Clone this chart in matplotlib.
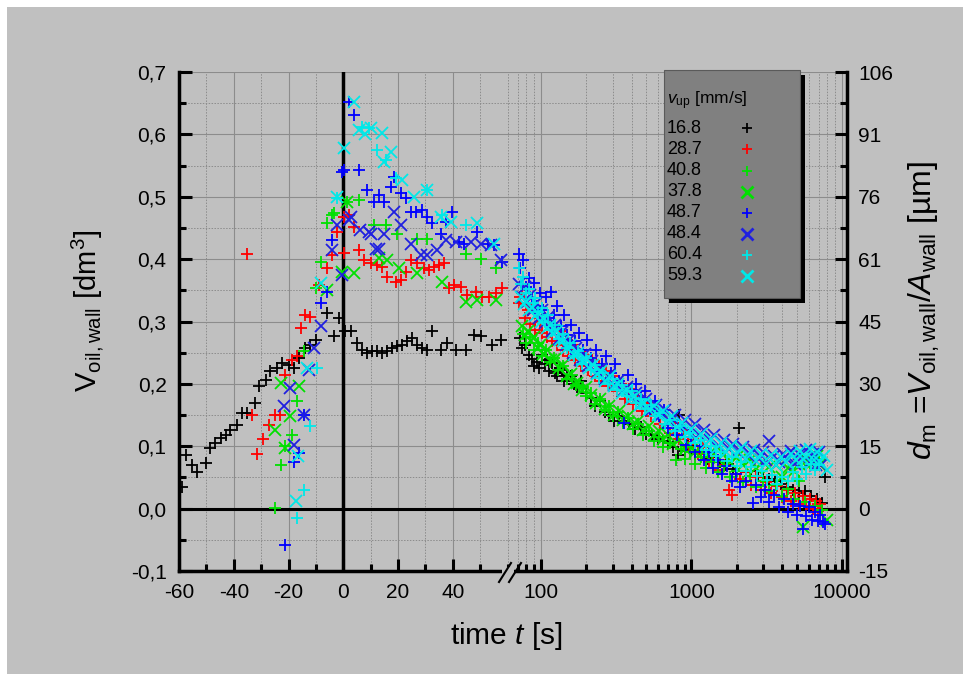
import matplotlib.pyplot as plt
import matplotlib.patches as patches
from matplotlib.lines import Line2D
from matplotlib.ticker import FixedLocator, MultipleLocator, LogLocator, FuncFormatter, NullFormatter
import numpy as np

plt.rcParams['font.family'] = ['Liberation Sans', 'DejaVu Sans']
plt.rcParams['mathtext.fontset'] = 'custom'
plt.rcParams['mathtext.rm'] = 'Liberation Sans'
plt.rcParams['mathtext.it'] = 'Liberation Sans:italic'
plt.rcParams['mathtext.bf'] = 'Liberation Sans:bold'
plt.rcParams['axes.unicode_minus'] = False

BG = '#c0c0c0'
UM_PER_DM3 = 151.4   # d_m = V / A_wall, right axis scale

# --- data: time [s], V_oil,wall [dm3]; linear part (t <= 60) and log part ------------
t_168 = [-58.9, -57.6, -55.2, -53.6, -50.3, -48.5, -46.7, -44.8, -43.0, -41.2, -38.8, -36.9,
         -35.1, -32.1, -30.9, -28.4, -26.6, -24.1, -22.3, -19.9, -18.1, -16.2, -13.8, -12.0,
         -10.1, -5.9, -3.4, -1.6, 0.8, 2.7, 5.1, 6.9, 8.8, 10.6, 12.4, 14.3, 16.1, 17.9, 19.7,
         21.6, 23.4, 25.2, 27.1, 28.9, 30.7, 32.5, 35.6, 38.0, 41.1, 44.7, 47.8, 50.2, 54.5, 57.5]
v_168 = [0.035, 0.086, 0.070, 0.059, 0.073, 0.097, 0.105, 0.113, 0.118, 0.126, 0.134, 0.153,
         0.153, 0.169, 0.196, 0.206, 0.220, 0.225, 0.234, 0.230, 0.225, 0.242, 0.258, 0.262,
         0.270, 0.314, 0.276, 0.306, 0.284, 0.284, 0.265, 0.254, 0.249, 0.252, 0.252, 0.249,
         0.252, 0.257, 0.260, 0.262, 0.268, 0.273, 0.262, 0.257, 0.254, 0.284, 0.254, 0.265,
         0.254, 0.254, 0.278, 0.276, 0.262, 0.270]
tl_168 = [73, 75, 78, 83, 87, 90, 94, 97, 102, 106, 110, 113, 119, 124, 128, 134, 139, 142, 150,
          158, 166, 175, 186, 200, 215, 230, 248, 265, 285, 306, 330, 350, 385, 420, 460, 500,
          550, 600, 650, 700, 760, 810, 830, 900, 950, 1050, 1150, 1280, 1400, 1550, 1700, 1880,
          2080, 2300, 2500, 2750, 3000, 3300, 3600, 3950, 4300, 4750, 5200, 5700, 6200, 6800,
          7400, 7660]
vl_168 = [0.273, 0.257, 0.262, 0.246, 0.240, 0.228, 0.235, 0.225, 0.246, 0.232, 0.238, 0.220,
          0.233, 0.218, 0.212, 0.226, 0.222, 0.204, 0.215, 0.212, 0.200, 0.195, 0.205, 0.185,
          0.178, 0.165, 0.172, 0.155, 0.150, 0.140, 0.148, 0.140, 0.135, 0.128, 0.131, 0.120,
          0.118, 0.112, 0.108, 0.105, 0.098, 0.086, 0.150, 0.092, 0.100, 0.088, 0.090, 0.080,
          0.082, 0.075, 0.070, 0.064, 0.129, 0.058, 0.060, 0.052, 0.050, 0.047, 0.045, 0.040,
          0.035, 0.030, 0.025, 0.028, 0.020, 0.015, 0.009, 0.051]

t_287 = [-35.1, -33.3, -31.4, -29.3, -27.2, -24.8, -23.2, -21.1, -18.6, -16.8, -15.4, -13.8,
         -12.0, -8.9, -5.9, -4.0, -2.2, 0.2, 0.2, 2.0, 3.9, 5.7, 7.5, 10.0, 12.4, 14.3, 16.1,
         19.1, 21.0, 22.8, 24.6, 27.1, 29.5, 31.3, 33.1, 35.0, 36.8, 38.6, 40.4, 42.9, 45.3,
         48.4, 50.8, 53.2, 55.7, 58.1]
v_287 = [0.409, 0.150, 0.088, 0.111, 0.134, 0.150, 0.150, 0.214, 0.238, 0.244, 0.289, 0.311,
         0.308, 0.359, 0.385, 0.407, 0.444, 0.410, 0.468, 0.471, 0.452, 0.415, 0.399, 0.393,
         0.391, 0.388, 0.372, 0.364, 0.367, 0.380, 0.399, 0.393, 0.385, 0.383, 0.388, 0.391,
         0.393, 0.353, 0.359, 0.356, 0.343, 0.348, 0.340, 0.340, 0.345, 0.353]
tl_287 = [71, 73, 75, 78, 80, 82, 85, 88, 92, 95, 99, 102, 106, 110, 114, 118, 123, 128, 134,
          140, 146, 152, 160, 168, 176, 185, 195, 205, 217, 230, 242, 255, 270, 284, 300, 320,
          340, 360, 385, 410, 440, 470, 505, 540, 580, 620, 670, 720, 775, 830, 890, 960, 1030,
          1100, 1200, 1300, 1400, 1500, 1650, 1790, 1870, 1980, 2100, 2300, 2500, 2700, 2900,
          3150, 3400, 3700, 4000, 4300, 4600, 4900, 5200, 5500, 5800, 6100, 6400, 6700, 6900,
          7100, 7300]
vl_287 = [0.330, 0.340, 0.345, 0.305, 0.328, 0.318, 0.296, 0.322, 0.286, 0.305, 0.300, 0.282,
          0.305, 0.275, 0.298, 0.268, 0.290, 0.262, 0.285, 0.255, 0.272, 0.245, 0.262, 0.238,
          0.255, 0.228, 0.246, 0.222, 0.238, 0.212, 0.228, 0.205, 0.220, 0.196, 0.212, 0.188,
          0.200, 0.176, 0.192, 0.168, 0.180, 0.156, 0.170, 0.148, 0.158, 0.135, 0.148, 0.122,
          0.138, 0.112, 0.126, 0.098, 0.112, 0.088, 0.098, 0.075, 0.085, 0.062, 0.070, 0.030,
          0.022, 0.055, 0.048, 0.058, 0.038, 0.050, 0.030, 0.042, 0.025, 0.036, 0.018, 0.030,
          0.012, 0.025, 0.008, 0.020, 0.004, 0.016, 0.000, 0.012, -0.004, 0.008, -0.002]

t_408 = [-24.8, -22.9, -21.1, -18.6, -16.8, -14.4, -10.1, -8.3, -5.9, -4.0, -3.4, 1.5, 5.7,
         11.2, 15.5, 19.7, 27.0, 30.7, 44.7, 50.2, 55.7]
v_408 = [0.001, 0.070, 0.100, 0.118, 0.172, 0.252, 0.353, 0.396, 0.458, 0.471, 0.474, 0.492,
         0.495, 0.455, 0.455, 0.441, 0.433, 0.433, 0.409, 0.401, 0.385]
tl_408 = [76, 80, 85, 90, 95, 101, 108, 115, 122, 130, 140, 150, 160, 170, 179, 190, 200, 215,
          230, 248, 265, 282, 300, 325, 350, 380, 410, 445, 480, 520, 560, 605, 650, 720, 792,
          850, 900, 980, 1050, 1150, 1250, 1380, 1500, 1650, 1800, 2000, 2200, 2450, 2700, 3000,
          3300, 3650, 4000, 4400, 4800, 5200, 5700, 6100, 6600, 7000, 7400]
vl_408 = [0.280, 0.265, 0.275, 0.255, 0.265, 0.245, 0.255, 0.235, 0.242, 0.222, 0.228, 0.208,
          0.215, 0.198, 0.196, 0.195, 0.180, 0.185, 0.168, 0.175, 0.158, 0.165, 0.148, 0.155,
          0.138, 0.145, 0.128, 0.135, 0.118, 0.125, 0.108, 0.115, 0.098, 0.105, 0.078, 0.095,
          0.080, 0.090, 0.072, 0.082, 0.065, 0.075, 0.058, 0.068, 0.050, 0.060, 0.042, 0.052,
          0.035, 0.045, 0.028, 0.038, 0.020, 0.032, 0.015, 0.045, 0.010, 0.070, 0.005, 0.080,
          -0.002]

t_378 = [-24.8, -22.9, -21.1, -19.3, -16.2, -6.0, -0.4, 1.5, 3.9, 13.0, 16.0, 20.3, 27.0,
         36.2, 44.7, 49.0, 55.7]
v_378 = [0.126, 0.201, 0.097, 0.148, 0.196, 0.350, 0.380, 0.491, 0.377, 0.402, 0.399, 0.385,
         0.377, 0.364, 0.332, 0.335, 0.335]
tl_378 = [75, 79, 82, 86, 90, 95, 99, 104, 110, 117, 125, 132, 140, 149, 158, 166, 175, 187,
          200, 215, 231, 248, 265, 285, 305, 328, 350, 380, 410, 445, 480, 520, 560, 605, 650,
          700, 760, 830, 900, 975, 1050, 1150, 1250, 1380, 1500, 1650, 1800, 2000, 2200, 2450,
          2700, 3000, 3300, 3650, 4000, 4400, 4800, 5200, 5500, 5900, 6400, 6800, 7200, 7900]
vl_378 = [0.292, 0.278, 0.285, 0.268, 0.275, 0.258, 0.262, 0.248, 0.255, 0.238, 0.240, 0.225,
          0.230, 0.212, 0.216, 0.200, 0.202, 0.190, 0.195, 0.182, 0.170, 0.175, 0.160, 0.165,
          0.150, 0.156, 0.142, 0.148, 0.135, 0.140, 0.126, 0.132, 0.118, 0.125, 0.112, 0.118,
          0.104, 0.110, 0.096, 0.102, 0.090, 0.096, 0.085, 0.092, 0.080, 0.088, 0.075, 0.082,
          0.070, 0.078, 0.065, 0.075, 0.066, 0.070, 0.050, 0.065, 0.060, 0.072, -0.030, 0.078,
          0.075, 0.085, 0.070, -0.018]

t_487 = [-21.1, -18.1, -16.2, -14.4, -8.3, -5.9, -4.0, -0.4, 0.2, 2.0, 3.9, 5.7, 8.8, 11.2,
         13.0, 14.8, 17.3, 18.5, 21.0, 22.8, 24.6, 26.5, 28.9, 30.7, 32.5, 35.6, 37.4, 39.9,
         42.3, 44.1, 49.0, 52.7, 55.1, 58.1]
v_487 = [-0.058, 0.075, 0.089, 0.150, 0.329, 0.348, 0.431, 0.540, 0.543, 0.652, 0.631, 0.543,
         0.511, 0.492, 0.503, 0.492, 0.516, 0.532, 0.506, 0.498, 0.476, 0.476, 0.479, 0.468,
         0.458, 0.441, 0.460, 0.476, 0.428, 0.425, 0.444, 0.425, 0.423, 0.396]
tl_487 = [71, 73, 76, 80, 83, 87, 90, 94, 98, 103, 108, 112, 116, 122, 128, 135, 142, 150, 159,
          168, 178, 190, 202, 215, 232, 255, 272, 291, 310, 330, 358, 380, 400, 430, 460, 495,
          530, 570, 610, 655, 700, 750, 800, 860, 920, 990, 1060, 1140, 1220, 1310, 1400, 1500,
          1600, 1720, 1850, 1980, 2100, 2300, 2560, 2700, 2900, 3100, 3300, 3550, 3800, 4100,
          4400, 4700, 5000, 5250, 5500, 5750, 6000, 6300, 6600, 6900, 7200, 7500, 7700]
vl_487 = [0.409, 0.385, 0.398, 0.355, 0.370, 0.338, 0.362, 0.325, 0.345, 0.318, 0.340, 0.305,
          0.348, 0.310, 0.325, 0.292, 0.310, 0.278, 0.295, 0.268, 0.282, 0.255, 0.270, 0.242,
          0.255, 0.232, 0.245, 0.218, 0.232, 0.205, 0.137, 0.215, 0.190, 0.200, 0.178, 0.188,
          0.160, 0.172, 0.148, 0.158, 0.130, 0.142, 0.118, 0.130, 0.102, 0.115, 0.090, 0.100,
          0.078, 0.090, 0.065, 0.078, 0.055, 0.068, 0.045, 0.055, 0.035, 0.045, 0.009, 0.038,
          0.018, 0.030, 0.010, 0.022, 0.002, 0.015, -0.005, 0.008, -0.010, 0.005, -0.033,
          -0.012, 0.002, -0.018, -0.005, -0.020, -0.010, -0.022, -0.025]

t_484 = [-21.7, -19.3, -18.1, -14.4, -12.6, -10.7, -8.3, -4.0, -2.2, -0.4, 2.0, 2.7, 6.3, 9.4,
         10.0, 11.8, 13.0, 14.8, 18.5, 21.0, 24.6, 28.3, 30.7, 34.4, 37.4, 41.1, 46.5, 50.2,
         53.9, 57.5]
v_484 = [0.164, 0.193, 0.102, 0.150, 0.222, 0.257, 0.292, 0.415, 0.455, 0.375, 0.463, 0.468,
         0.447, 0.444, 0.441, 0.417, 0.417, 0.441, 0.476, 0.455, 0.425, 0.407, 0.407, 0.415,
         0.431, 0.428, 0.428, 0.425, 0.423, 0.399]
tl_484 = [72, 75, 78, 81, 85, 89, 93, 97, 102, 107, 112, 118, 124, 131, 138, 146, 154, 163, 172,
          183, 195, 207, 220, 235, 250, 268, 285, 305, 325, 350, 375, 400, 430, 465, 500, 540,
          580, 625, 670, 720, 780, 840, 900, 970, 1050, 1130, 1220, 1320, 1420, 1530, 1650,
          1770, 1900, 2050, 2200, 2400, 2600, 2800, 3000, 3150, 3300, 3550, 3800, 4050, 4300,
          4600, 4900, 5200, 5500, 5800, 6100, 6400, 6700, 7000, 7300]
vl_484 = [0.360, 0.340, 0.355, 0.332, 0.342, 0.318, 0.330, 0.305, 0.318, 0.298, 0.308, 0.285,
          0.295, 0.272, 0.283, 0.262, 0.270, 0.250, 0.258, 0.238, 0.248, 0.228, 0.236, 0.218,
          0.226, 0.208, 0.215, 0.198, 0.205, 0.188, 0.195, 0.178, 0.186, 0.168, 0.176, 0.158,
          0.166, 0.150, 0.158, 0.140, 0.150, 0.132, 0.142, 0.125, 0.135, 0.118, 0.126, 0.110,
          0.118, 0.100, 0.110, 0.095, 0.104, 0.090, 0.098, 0.085, 0.094, 0.080, 0.090, 0.078,
          0.108, 0.085, 0.075, 0.088, 0.080, 0.092, 0.072, 0.088, 0.078, 0.094, 0.075, 0.088,
          0.070, 0.090, 0.070]

t_604 = [-16.8, -14.4, -12.0, -9.5, -2.2, 6.9, 9.4, 12.4, 15.5, 19.1, 30.7, 36.0, 45.0]
v_604 = [-0.015, 0.030, 0.132, 0.225, 0.498, 0.612, 0.610, 0.575, 0.559, 0.530, 0.511, 0.470,
         0.455]
tl_604 = [71, 74, 76, 80, 84, 88, 92, 96, 101, 106, 112, 118, 125, 132, 140, 148, 157, 166, 176,
          188, 200, 214, 228, 244, 260, 280, 300, 322, 345, 372, 400, 430, 460, 495, 535, 575,
          620, 670, 720, 780, 840, 910, 980, 1060, 1150, 1250, 1350, 1460, 1580, 1710, 1850,
          2000, 2150, 2320, 2500, 2720, 2950, 3200, 3450, 3720, 4000, 4350, 4700, 5050, 5400,
          5800, 6200, 6600, 7000]
vl_604 = [0.386, 0.360, 0.372, 0.345, 0.352, 0.330, 0.338, 0.315, 0.322, 0.300, 0.310, 0.286,
          0.295, 0.272, 0.280, 0.258, 0.265, 0.245, 0.252, 0.232, 0.242, 0.222, 0.230, 0.210,
          0.218, 0.200, 0.208, 0.190, 0.198, 0.180, 0.188, 0.170, 0.176, 0.160, 0.166, 0.148,
          0.154, 0.136, 0.142, 0.125, 0.132, 0.115, 0.122, 0.105, 0.110, 0.094, 0.100, 0.084,
          0.090, 0.076, 0.082, 0.068, 0.074, 0.060, 0.066, 0.052, 0.060, 0.046, 0.054, 0.040,
          0.050, 0.044, 0.058, 0.048, 0.066, 0.056, 0.072, 0.062, 0.070]

t_593 = [-17.4, -16.5, -13.2, -8.3, -2.2, 0.2, 3.9, 5.7, 8.0, 10.0, 14.3, 14.8, 17.3, 21.6,
         25.8, 30.7, 35.6, 39.3, 49.0, 55.1]
v_593 = [0.012, 0.085, 0.225, 0.361, 0.500, 0.578, 0.652, 0.607, 0.600, 0.610, 0.602, 0.556,
         0.572, 0.527, 0.500, 0.511, 0.468, 0.460, 0.458, 0.425]
tl_593 = [74, 77, 80, 84, 87, 91, 95, 100, 104, 110, 115, 121, 127, 134, 141, 149, 157, 166,
          176, 187, 198, 210, 223, 237, 252, 268, 286, 305, 326, 348, 372, 398, 425, 455, 487,
          522, 560, 600, 645, 693, 745, 800, 860, 928, 1000, 1080, 1160, 1250, 1350, 1460, 1570,
          1700, 1830, 1980, 2130, 2300, 2480, 2680, 2900, 3150, 3400, 3670, 3950, 4270, 4600,
          4950, 5300, 5550, 5800, 6150, 6500, 6850, 7200, 7550, 7900]
vl_593 = [0.340, 0.328, 0.333, 0.318, 0.322, 0.309, 0.313, 0.300, 0.306, 0.290, 0.294, 0.281,
          0.285, 0.270, 0.268, 0.258, 0.262, 0.246, 0.250, 0.236, 0.240, 0.226, 0.230, 0.216,
          0.220, 0.205, 0.212, 0.196, 0.200, 0.186, 0.190, 0.176, 0.180, 0.166, 0.170, 0.158,
          0.164, 0.150, 0.156, 0.140, 0.148, 0.131, 0.138, 0.122, 0.128, 0.112, 0.120, 0.104,
          0.112, 0.096, 0.106, 0.090, 0.100, 0.086, 0.097, 0.080, 0.092, 0.076, 0.088, 0.072,
          0.086, 0.070, 0.083, 0.074, 0.088, 0.078, 0.092, 0.080, 0.083, 0.096, 0.078, 0.090,
          0.075, 0.084, 0.062]

labels = ['16.8', '28.7', '40.8', '37.8', '48.7', '48.4', '60.4', '59.3']
markers = ['+', '+', '+', 'x', '+', 'x', '+', 'x']
colors = ['black', '#ff0000', '#00e000', '#00e000', '#0000ff', '#2020e0', '#00e8e8', '#00e8e8']
times = [t_168 + tl_168, t_287 + tl_287, t_408 + tl_408, t_378 + tl_378,
         t_487 + tl_487, t_484 + tl_484, t_604 + tl_604, t_593 + tl_593]
values = [v_168 + vl_168, v_287 + vl_287, v_408 + vl_408, v_378 + vl_378,
          v_487 + vl_487, v_484 + vl_484, v_604 + vl_604, v_593 + vl_593]

T_BREAK = 60

# --- figure -----------------------------------------------------------------
W, H = 971, 681
fig = plt.figure(figsize=(W / 100, H / 100), dpi=100, facecolor='white')
fig.add_artist(patches.Rectangle((7 / W, 7 / H), 956 / W, 667 / H, transform=fig.transFigure,
                                 facecolor=BG, edgecolor='none', zorder=-10))

def px(x, y):
    return x / W, 1 - y / H

ax1 = fig.add_axes([179 / W, 110 / H, 328.5 / W, 499 / H], facecolor=BG)
ax2 = fig.add_axes([507.5 / W, 110 / H, 339.5 / W, 499 / H], facecolor=BG)
ax2.set_xscale('log')

ax1.set_xlim(-60, T_BREAK)
ax2.set_xlim(T_BREAK, 10800)
for ax in (ax1, ax2):
    ax.set_ylim(-0.1, 0.7)
    ax.spines['top'].set_visible(False)
    ax.yaxis.set_major_locator(MultipleLocator(0.1))
    ax.yaxis.set_minor_locator(MultipleLocator(0.05))
    ax.tick_params(which='both', direction='in', width=2.2, labelsize=15)
    ax.tick_params(which='major', length=9)
    ax.tick_params(which='minor', length=5)
    ax.grid(which='major', color='#8c8c8c', lw=0.8, ls='-')
    ax.grid(which='minor', color='#8c8c8c', lw=0.7, ls=(0, (1.5, 1.5)))
    ax.set_axisbelow(True)
    ax.axhline(0, color='black', lw=2.2, zorder=1.5)

ax1.spines['right'].set_visible(False)
ax1.spines['left'].set_linewidth(2.5)
ax1.spines['bottom'].set_linewidth(2.5)
ax1.xaxis.set_major_locator(FixedLocator([-60, -40, -20, 0, 20, 40]))
ax1.xaxis.set_minor_locator(FixedLocator([-50, -30, -10, 10, 30, 50]))
ax1.yaxis.set_major_formatter(FuncFormatter(lambda v, p: f"{v:.1f}".replace('.', ',')))
ax1.tick_params(axis='x', pad=9)
ax1.tick_params(axis='y', pad=9)
ax1.axvline(0, color='black', lw=2.5, zorder=1.5)

ax2.spines['left'].set_visible(False)
ax2.spines['right'].set_linewidth(2.5)
ax2.spines['bottom'].set_linewidth(2.5)
ax2.xaxis.set_major_locator(LogLocator(base=10, numticks=10))
ax2.xaxis.set_minor_locator(LogLocator(base=10, subs=np.arange(2, 10), numticks=20))
ax2.xaxis.set_major_formatter(FuncFormatter(lambda v, p: f"{v:.0f}"))
ax2.xaxis.set_minor_formatter(NullFormatter())
ax2.yaxis.tick_right()
ax2.yaxis.set_major_formatter(FuncFormatter(lambda v, p: f"{round(v * UM_PER_DM3) + 0:d}"))
ax2.tick_params(axis='x', pad=9)
ax2.tick_params(axis='y', pad=8, left=False, which='both')

# --- data -------------------------------------------------------------------
for t, v, m, c in zip(times, values, markers, colors):
    t = np.asarray(t, dtype=float)
    v = np.asarray(v, dtype=float)
    ms = 8 if m == '+' else 8.5
    lin = t <= T_BREAK
    ax1.plot(t[lin], v[lin], ls='none', marker=m, ms=ms, mew=1.3, color=c, zorder=3)
    ax2.plot(t[~lin], v[~lin], ls='none', marker=m, ms=ms, mew=1.3, color=c, zorder=3)

# --- axis break marks ------------------------------------------------------------
fig.add_artist(patches.Rectangle(px(502, 575), 12 / W, 8 / H, transform=fig.transFigure,
                                 facecolor=BG, edgecolor='none', zorder=5))
for x0 in (499, 509):
    (xa, ya), (xb, yb) = px(x0, 582), px(x0 + 12, 563)
    fig.add_artist(Line2D([xa, xb], [ya, yb], transform=fig.transFigure, color='black',
                          lw=1.5, zorder=6))

# --- axis labels --------------------------------------------------------------
fig.text(*px(506, 636), 'time $t$ [s]', fontsize=21.5, ha='center', va='center')
fig.text(*px(88, 311), r'$\mathrm{V}_{\mathrm{oil,wall}}$ [dm$^3$]', fontsize=21,
         rotation=90, ha='center', va='center')
fig.text(*px(924, 310), r'$d_{\mathrm{m}}$ =$V_{\mathrm{oil,wall}}$/$A_{\mathrm{wall}}$ [µm]',
         fontsize=23, rotation=90, ha='center', va='center')

# --- legend box with shadow -------------------------------------------------------
fig.add_artist(patches.Rectangle(px(669, 303), 136 / W, 228 / H, transform=fig.transFigure,
                                 facecolor='black', edgecolor='none', zorder=7))
fig.add_artist(patches.Rectangle(px(664, 298), 136 / W, 228 / H, transform=fig.transFigure,
                                 facecolor='#808080', edgecolor='#5a5a5a', lw=0.8, zorder=8))
fig.text(*px(667, 101), r'$v_{\mathrm{up}}$ [mm/s]', fontsize=12.5, ha='left', va='center',
         zorder=9)
for i, (lab, m, c) in enumerate(zip(labels, markers, colors)):
    y = 128.3 + 21.1 * i
    fig.text(*px(667, y), lab, fontsize=13, ha='left', va='center', zorder=9)
    xm, ym = px(747, y)
    fig.add_artist(Line2D([xm], [ym], transform=fig.transFigure, ls='none', marker=m,
                          ms=7 if m == '+' else 8, mew=1.3 if m == '+' else 2, color=c,
                          zorder=9))

fig.savefig('out.png', dpi=100, facecolor='white')
